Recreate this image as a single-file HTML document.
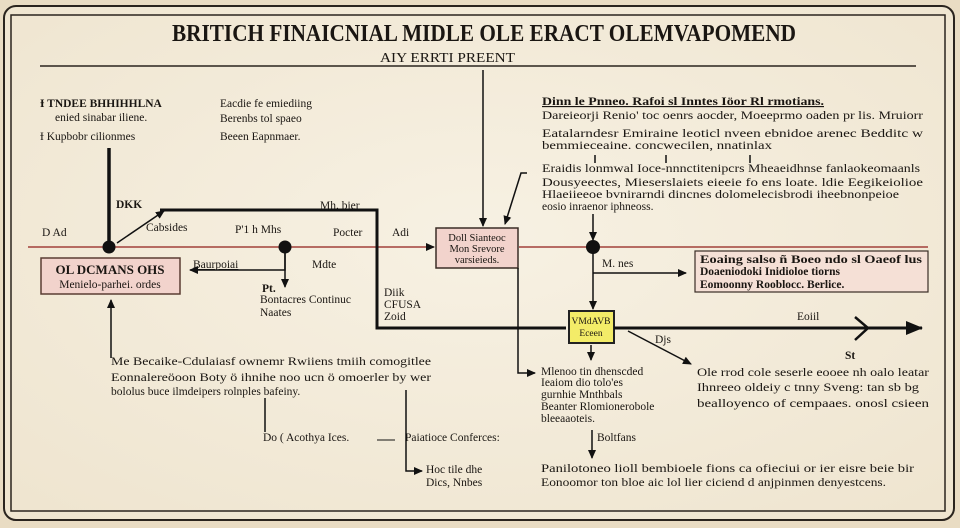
<!DOCTYPE html>
<html><head><meta charset="utf-8"><style>
html,body{margin:0;padding:0;width:960px;height:528px;overflow:hidden;background:#efe6d3}
svg text{font-family:"Liberation Serif",serif;fill:#1a1612}
.b{font-weight:bold}
</style></head><body>
<svg width="960" height="528" viewBox="0 0 960 528" xmlns="http://www.w3.org/2000/svg">
<defs>
<marker id="a" markerWidth="10" markerHeight="10" refX="8" refY="5" orient="auto" markerUnits="userSpaceOnUse"><path d="M0,1 L9,5 L0,9 Z" fill="#111"/></marker>
<marker id="A" markerWidth="18" markerHeight="18" refX="16" refY="9" orient="auto" markerUnits="userSpaceOnUse"><path d="M0,2 L17,9 L0,16 Z" fill="#111"/></marker>
<radialGradient id="g" cx="50%" cy="45%" r="70%"><stop offset="0" stop-color="#f7f1e3"/><stop offset="1" stop-color="#efe5d0"/></radialGradient>
</defs>
<rect x="0" y="0" width="960" height="528" fill="#e9dcc3"/>
<rect x="4" y="6" width="950" height="514" rx="12" fill="url(#g)" stroke="#2a241e" stroke-width="2"/>
<rect x="11" y="15" width="934" height="496" fill="none" stroke="#2a241e" stroke-width="1.5"/>
<text x="172" y="41" class="b" font-size="24" textLength="624" lengthAdjust="spacingAndGlyphs">BRITICH  FINAICNIAL  MIDLE  OLE  ERACT  OLEMVAPOMEND</text>
<text x="380" y="62" font-size="14" textLength="135" lengthAdjust="spacingAndGlyphs">AIY  ERRTI  PREENT</text>
<line x1="40" y1="66" x2="916" y2="66" stroke="#2a241e" stroke-width="1.5"/>

<g font-size="11.5">
<text x="40" y="107" class="b">Ɨ  TNDEE BHHIHHLNA</text>
<text x="55" y="121">enied sinabar iliene.</text>
<text x="40" y="140">Ɨ  Kupbobr cilionmes</text>
<text x="220" y="107">Eacdie fe emiediing</text>
<text x="220" y="122">Berenbs tol spaeo</text>
<text x="220" y="140">Beeen Eapnmaer.</text>
<text x="542" y="105" class="b" text-decoration="underline" textLength="282" lengthAdjust="spacingAndGlyphs">Dinn le Pnneo. Rafoi sl Inntes  Iöor  Rl  rmotians.</text>
<text x="542" y="119" textLength="381" lengthAdjust="spacingAndGlyphs">Dareieorji  Renio' toc oenrs aocder,  Moeeprmo  oaden pr lis.  Mruiorr</text>
<text x="542" y="137" textLength="381" lengthAdjust="spacingAndGlyphs">Eatalarndesr  Emiraine leoticl nveen ebnidoe   arenec  Bedditc    w</text>
<text x="542" y="149" textLength="230" lengthAdjust="spacingAndGlyphs">bemmieceaine.  concwecilen,    nnatinlax</text>
<text x="542" y="172" textLength="378" lengthAdjust="spacingAndGlyphs">Eraidis lonmwal  Ioce-nnnctitenipcrs  Mheaeidhnse  fanlaokeomaanls</text>
<text x="542" y="186" textLength="381" lengthAdjust="spacingAndGlyphs">Dousyeectes,   Mieserslaiets  eieeie fo ens loate.  ldie   Eegikeiolioe</text>
<text x="542" y="198" textLength="357" lengthAdjust="spacingAndGlyphs">Hlaeiieeoe  bvnirarndi  dincnes  dolomelecisbrodi iheebnonpeioe</text>
<text x="542" y="210">eosio  inraenor iphneoss.</text>
<text x="42" y="236">D Ad</text>
<text x="116" y="208" class="b">DKK</text>
<text x="146" y="231">Cabsides</text>
<text x="235" y="233">P'1 h Mhs</text>
<text x="320" y="209">Mh. bier</text>
<text x="333" y="236">Pocter</text>
<text x="392" y="236">Adi</text>
<text x="193" y="268" text-decoration="underline">Baurpoiai</text>
<text x="312" y="268">Mdte</text>
<text x="262" y="292" class="b">Pt.</text>
<text x="260" y="303">Bontacres  Continuc</text>
<text x="260" y="316">Naates</text>
<text x="384" y="296">Diik</text>
<text x="384" y="308">CFUSA</text>
<text x="384" y="320">Zoid</text>
<text x="602" y="267">M. nes</text>
<text x="797" y="320">Eoiil</text>
<text x="655" y="343">Djs</text>
<text x="845" y="359" class="b">St</text>
<text x="111" y="365" textLength="320" lengthAdjust="spacingAndGlyphs">Me Becaike-Cdulaiasf ownemr Rwiiens tmiih comogitlee</text>
<text x="111" y="381" textLength="320" lengthAdjust="spacingAndGlyphs">Eonnalereöoon Boty  ö ihnihe noo ucn ö omoerler by  wer</text>
<text x="111" y="395">bololus buce ilmdeipers rolnples bafeiny.</text>
<text x="263" y="441">Do ( Acothya  Ices.</text>
<text x="405" y="441">Paiatioce Conferces:</text>
<text x="426" y="473">Hoc tile  dhe</text>
<text x="426" y="486">Dics, Nnbes</text>
<text x="541" y="375">Mlenoo tin dhenscded</text>
<text x="541" y="386">Ieaiom dio  tolo'es</text>
<text x="541" y="398">gurnhie   Mnthbals</text>
<text x="541" y="410">Beanter  Rlomionerobole</text>
<text x="541" y="422">bleeaaoteis.</text>
<text x="597" y="441">Boltfans</text>
<text x="697" y="376" textLength="232" lengthAdjust="spacingAndGlyphs">Ole  rrod  cole seserle eooee nh  oalo leatar</text>
<text x="697" y="391" textLength="222" lengthAdjust="spacingAndGlyphs">Ihnreeo  oldeiy  c  tnny  Sveng: tan  sb  bg</text>
<text x="697" y="407" textLength="232" lengthAdjust="spacingAndGlyphs">bealloyenco  of  cempaaes.    onosl  csieen</text>
<text x="541" y="472" textLength="373" lengthAdjust="spacingAndGlyphs">Panilotoneo  lioll  bembioele fions  ca  ofieciui  or  ier  eisre  beie bir</text>
<text x="541" y="486" textLength="345" lengthAdjust="spacingAndGlyphs">Eonoomor ton  bloe aic  lol  lier ciciend  d anjpinmen denyestcens.</text>
</g>

<line x1="28" y1="247" x2="434" y2="247" stroke="#a2413a" stroke-width="1.5" marker-end="url(#a)"/>
<line x1="519" y1="247" x2="928" y2="247" stroke="#a2413a" stroke-width="1.5"/>

<rect x="41" y="258" width="139" height="36" fill="#f2d3cc" stroke="#5a3d33" stroke-width="1.5"/>
<text x="110" y="274" text-anchor="middle" class="b" font-size="13">OL DCMANS OHS</text>
<text x="110" y="288" text-anchor="middle" font-size="11.5">Menielo-parhei. ordes</text>
<rect x="436" y="228" width="82" height="40" fill="#f2d3cc" stroke="#3a2d26" stroke-width="1.5"/>
<text x="477" y="241" text-anchor="middle" font-size="10.5">Doll  Sianteoc</text>
<text x="477" y="252" text-anchor="middle" font-size="10.5">Mon Srevore</text>
<text x="477" y="263" text-anchor="middle" font-size="10.5">varsieieds.</text>
<rect x="695" y="251" width="233" height="41" fill="#f5e0d6" stroke="#3a2d26" stroke-width="1.2"/>
<text x="700" y="263" class="b" font-size="11.5" textLength="222" lengthAdjust="spacingAndGlyphs">Eoaing salso ñ Boeo ndo sl Oaeof lus</text>
<text x="700" y="275" class="b" font-size="11.5">Doaeniodoki Inidioloe tiorns</text>
<text x="700" y="288" class="b" font-size="11.5">Eomoonny Rooblocc. Berlice.</text>
<rect x="569" y="311" width="45" height="32" fill="#f3ec68" stroke="#222" stroke-width="2"/>
<text x="591" y="324" text-anchor="middle" font-size="9.5">VMdAVB</text>
<text x="591" y="336" text-anchor="middle" font-size="9.5">Eceen</text>

<g stroke="#111" fill="none">
<line x1="109" y1="148" x2="109" y2="247" stroke-width="3.5"/>
<line x1="117" y1="243" x2="164" y2="211" stroke-width="1.5" marker-end="url(#a)"/>
<polyline points="160,210 377,210 377,328 566,328" stroke-width="3"/>
<line x1="614" y1="328" x2="922" y2="328" stroke-width="3" marker-end="url(#A)"/>
<polyline points="855,317 868,328 855,340" stroke-width="2.5"/>
<line x1="483" y1="70" x2="483" y2="226" stroke-width="1.5" marker-end="url(#a)"/>
<polyline points="527,173 521,173 505,224" stroke-width="1.5" marker-end="url(#a)"/>
<line x1="595" y1="155" x2="595" y2="163" stroke-width="1.5"/>
<line x1="666" y1="155" x2="666" y2="163" stroke-width="1.5"/>
<line x1="750" y1="155" x2="750" y2="163" stroke-width="1.5"/>
<line x1="593" y1="214" x2="593" y2="240" stroke-width="1.5" marker-end="url(#a)"/>
<line x1="593" y1="247" x2="593" y2="309" stroke-width="1.5" marker-end="url(#a)"/>
<line x1="593" y1="273" x2="686" y2="273" stroke-width="1.5" marker-end="url(#a)"/>
<line x1="591" y1="345" x2="591" y2="360" stroke-width="1.5" marker-end="url(#a)"/>
<polyline points="518,268 518,373 535,373" stroke-width="1.5" marker-end="url(#a)"/>
<line x1="628" y1="331" x2="691" y2="364" stroke-width="1.5" marker-end="url(#a)"/>
<line x1="592" y1="430" x2="592" y2="458" stroke-width="1.5" marker-end="url(#a)"/>
<polyline points="285,247 285,270 190,270" stroke-width="1.5" marker-end="url(#a)"/>
<line x1="285" y1="250" x2="285" y2="287" stroke-width="1.5" marker-end="url(#a)"/>
<line x1="111" y1="358" x2="111" y2="300" stroke-width="1.5" marker-end="url(#a)"/>
<line x1="265" y1="398" x2="265" y2="432" stroke-width="1.5"/>
<line x1="377" y1="440" x2="395" y2="440" stroke-width="1"/>
<polyline points="406,390 406,471 422,471" stroke-width="1.5" marker-end="url(#a)"/>
</g>
<circle cx="109" cy="247" r="6.5" fill="#111"/>
<circle cx="285" cy="247" r="6.5" fill="#111"/>
<circle cx="593" cy="247" r="7" fill="#111"/>
</svg>
</body></html>
